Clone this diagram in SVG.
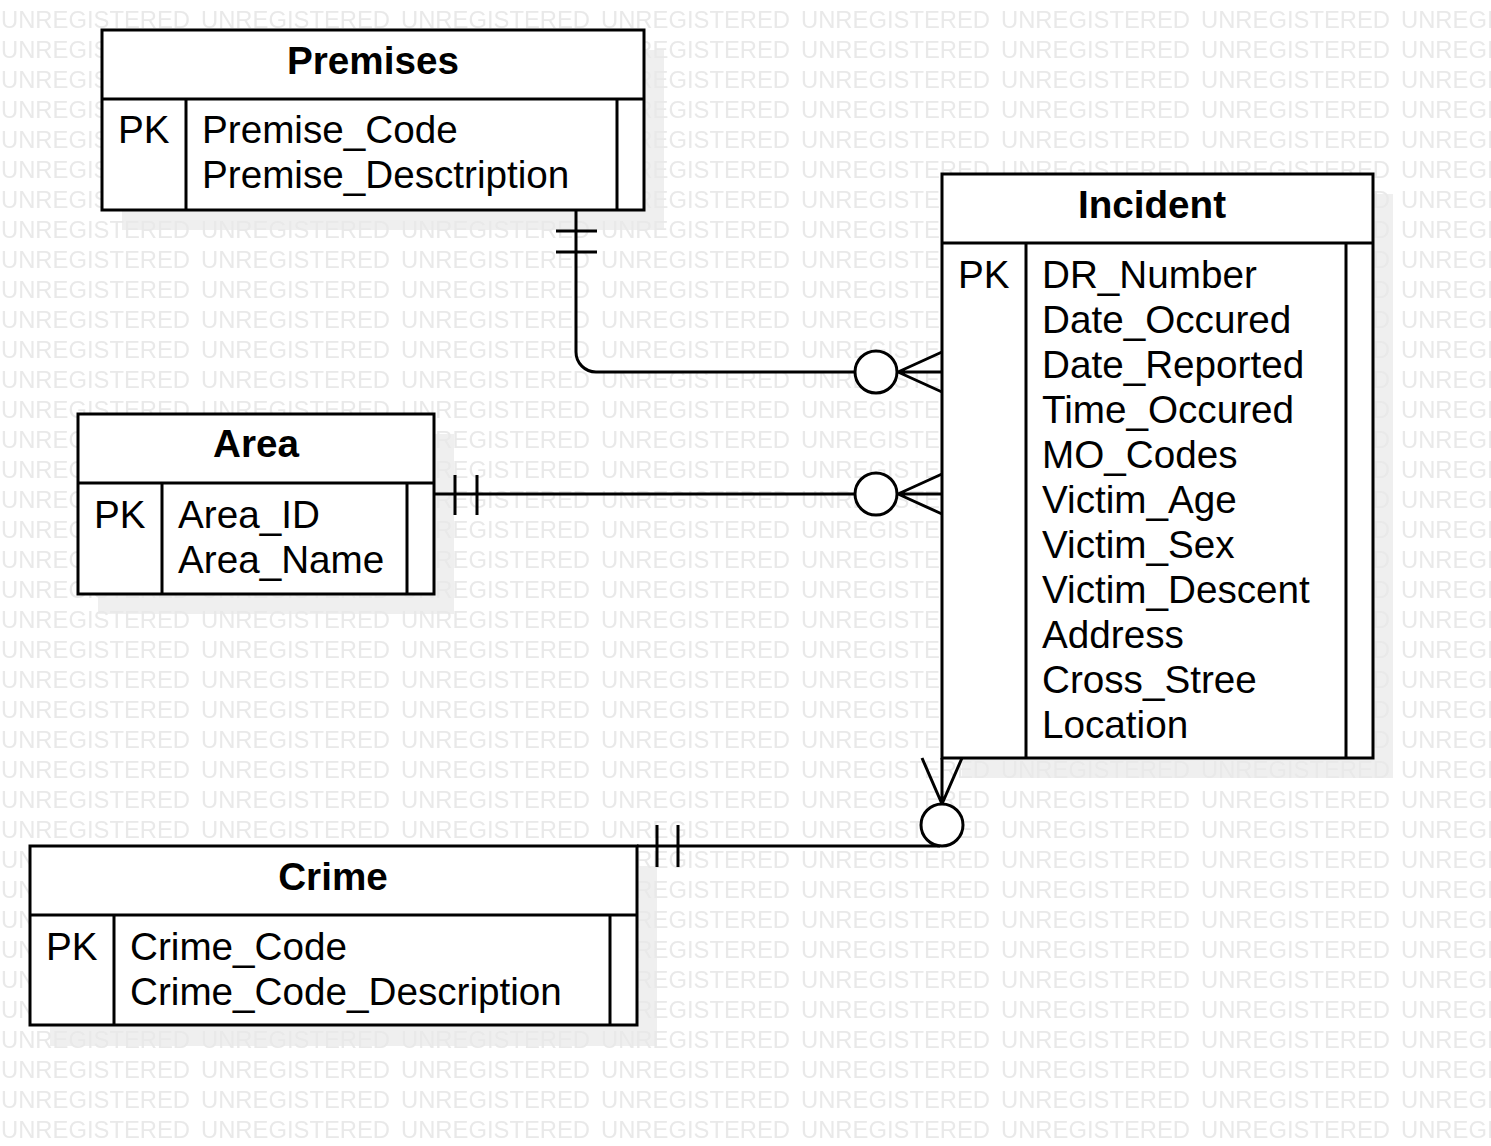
<svg xmlns="http://www.w3.org/2000/svg" width="1491" height="1146" viewBox="0 0 1491 1146">
<defs>
<style>
.wm{font-family:"Liberation Sans",Arial,sans-serif;font-size:23.5px;fill:#e9e9e9}
.shadow{fill:#efefef}
.box{fill:#fff;stroke:#000;stroke-width:3}
.div{stroke:#000;stroke-width:3;fill:none}
.title{font-family:"Liberation Sans",Arial,sans-serif;font-size:38.67px;font-weight:bold;fill:#000;text-anchor:middle}
.attr{font-family:"Liberation Sans",Arial,sans-serif;font-size:38.67px;fill:#000}
.conn{stroke:#000;stroke-width:3;fill:none}
.circ{fill:#fff;stroke:#000;stroke-width:3}
</style>
<pattern id="wmp" patternUnits="userSpaceOnUse" x="0" y="0" width="200" height="30">
<text class="wm" x="1" y="28" textLength="189" lengthAdjust="spacingAndGlyphs">UNREGISTERED</text>
</pattern>
</defs>
<rect x="0" y="0" width="1491" height="1146" fill="#fff"/>
<g id="shadows">
<rect class="shadow" x="122" y="50" width="542" height="180"/>
<rect class="shadow" x="98" y="434" width="356" height="180"/>
<rect class="shadow" x="962" y="194" width="431" height="584"/>
<rect class="shadow" x="50" y="866" width="607" height="180"/>
</g>
<rect id="watermark" x="0" y="0" width="1491" height="1146" fill="url(#wmp)"/>
<g id="connectors">
<g id="premises-incident">
<path class="conn" d="M576,210 V352 A20,20 0 0 0 596,372 H855"/>
<path class="conn" d="M556,231 H597 M556,252 H597"/>
<path class="conn" d="M898,372 L942,352 M898,372 L942,372 M898,372 L942,392"/>
<circle class="circ" cx="876" cy="372" r="21"/>
</g>
<g id="area-incident">
<path class="conn" d="M434,494 H855"/>
<path class="conn" d="M455,475 V515 M477,475 V515"/>
<path class="conn" d="M898,494 L942,474 M898,494 L942,494 M898,494 L942,514"/>
<circle class="circ" cx="876" cy="494" r="21"/>
</g>
<g id="crime-incident">
<path class="conn" d="M637,846 H940"/>
<path class="conn" d="M657,825 V867 M678,825 V867"/>
<path class="conn" d="M942,804 L922,758 M942,804 L942,758 M942,804 L962,758"/>
<circle class="circ" cx="942" cy="825" r="21"/>
</g>
</g>
<g id="premises">
<rect class="box" x="102" y="30" width="542" height="180"/>
<path class="div" d="M102,99 H644 M186,99 V210 M617,99 V210"/>
<text class="title" x="373" y="74">Premises</text>
<text class="attr" x="118" y="143">PK</text>
<text class="attr" x="202" y="143">Premise_Code</text>
<text class="attr" x="202" y="188">Premise_Desctription</text>
</g>
<g id="area">
<rect class="box" x="78" y="414" width="356" height="180"/>
<path class="div" d="M78,483 H434 M162,483 V594 M407,483 V594"/>
<text class="title" x="256" y="457">Area</text>
<text class="attr" x="94" y="528">PK</text>
<text class="attr" x="178" y="528">Area_ID</text>
<text class="attr" x="178" y="573">Area_Name</text>
</g>
<g id="incident">
<rect class="box" x="942" y="174" width="431" height="584"/>
<path class="div" d="M942,243 H1373 M1026,243 V758 M1346,243 V758"/>
<text class="title" x="1152" y="218">Incident</text>
<text class="attr" x="958" y="288">PK</text>
<text class="attr" x="1042" y="288">DR_Number</text>
<text class="attr" x="1042" y="333">Date_Occured</text>
<text class="attr" x="1042" y="378">Date_Reported</text>
<text class="attr" x="1042" y="423">Time_Occured</text>
<text class="attr" x="1042" y="468">MO_Codes</text>
<text class="attr" x="1042" y="513">Victim_Age</text>
<text class="attr" x="1042" y="558">Victim_Sex</text>
<text class="attr" x="1042" y="603">Victim_Descent</text>
<text class="attr" x="1042" y="648">Address</text>
<text class="attr" x="1042" y="693">Cross_Stree</text>
<text class="attr" x="1042" y="738">Location</text>
</g>
<g id="crime">
<rect class="box" x="30" y="846" width="607" height="179"/>
<path class="div" d="M30,915 H637 M114,915 V1025 M610,915 V1025"/>
<text class="title" x="333" y="890">Crime</text>
<text class="attr" x="46" y="960">PK</text>
<text class="attr" x="130" y="960">Crime_Code</text>
<text class="attr" x="130" y="1005">Crime_Code_Description</text>
</g>
</svg>
